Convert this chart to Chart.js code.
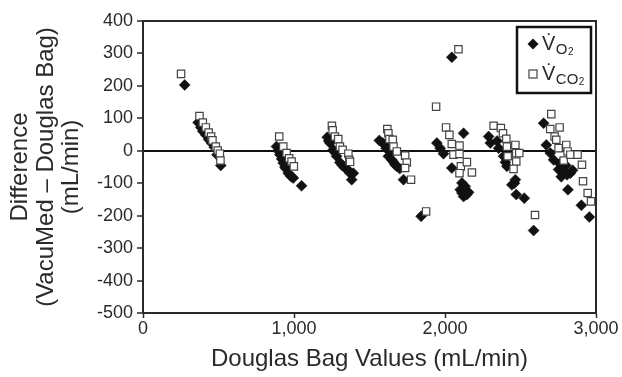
<!DOCTYPE html>
<html>
<head>
<meta charset="utf-8">
<script src="https://cdn.jsdelivr.net/npm/chart.js@4/dist/chart.umd.min.js"></script>
<style>
  html, body { margin: 0; padding: 0; background: #fff; }
  #wrap { width: 622px; height: 377px; }
</style>
</head>
<body>
<div id="wrap"><canvas id="chart"></canvas></div>
<script>
// Douglas bag reading (x) vs difference VacuMed - Douglas (y), mL/min
const o2X = [276, 365, 383, 396, 416, 435, 455, 472, 490, 515,
  884, 895, 907, 918, 929, 940, 946, 962, 978, 985, 995, 1050,
  1220, 1230, 1238, 1260, 1270, 1282, 1304, 1320, 1338, 1360, 1371, 1393, 1382,
  1565, 1587, 1600, 1610, 1625, 1640, 1647, 1660, 1669, 1681, 1700, 1725,
  1842, 1946, 1968, 1990, 2045, 2123, 2112, 2101, 2123, 2156, 2134, 2145, 2112, 2045,
  2289, 2300, 2345, 2355, 2388, 2400, 2410, 2443, 2460, 2466, 2472, 2525, 2587,
  2653, 2671, 2697, 2719, 2752, 2760, 2770, 2780, 2786, 2800, 2808, 2830, 2845, 2814, 2903, 2956];
const o2Y = [203, 87, 72, 60, 49, 35, 23, 11, -12, -45,
  13, 0, -12, -25, -38, -50, -55, -69, -78, -80, -84, -108,
  42, 30, 24, 3, -5, -17, -36, -45, -53, -60, -69, -69, -89,
  32, 24, 20, 8, -17, -5, -28, -35, -43, -48, -55, -89,
  -202, 24, 8, -9, -53, 54, -99, -120, -141, -128, -110, -135, -130, 288,
  44, 24, 30, 8, -17, -35, -48, -105, -100, -89, -135, -146, -246,
  85, 18, -7, -28, -58, -40, -80, -50, -64, -45, -74, -69, -60, -120, -168, -204];

const co2X = [252, 374, 396, 416, 435, 451, 460, 482, 495, 509, 513,
  902, 929, 951, 968, 984, 999,
  1251, 1256, 1271, 1293, 1304, 1322, 1360, 1366, 1371,
  1618, 1625, 1632, 1654, 1659, 1681, 1736, 1747, 1736, 1775,
  1875, 1941, 2089, 2007, 2029, 2045, 2096, 2056, 2096, 2105, 2145, 2178, 2096,
  2322, 2370, 2384, 2406, 2410, 2466, 2415, 2472, 2492, 2472, 2454, 2596,
  2704, 2697, 2759, 2726, 2737, 2752, 2803, 2812, 2786, 2830, 2878, 2907, 2914, 2945, 2967];
const co2Y = [237, 107, 87, 72, 56, 44, 32, 13, 1, -9, -30,
  44, 13, -7, -23, -33, -48,
  77, 63, 44, 36, 13, 3, -9, -28, -34,
  67, 54, 36, 34, 13, -2, -15, -36, -53, -89,
  -187, 136, 313, 72, 49, 21, 16, -12, -10, -48, -35, -67, -69,
  77, 70, 54, 37, 13, 18, -17, -7, -7, -33, -56, -198,
  113, 67, 72, 44, 34, 8, 18, -2, -30, -12, -12, -43, -94, -130, -156];

const yTitle = ['Difference', '(VacuMed \u2013 Douglas Bag)', '(mL/min)'];
const xTitle = 'Douglas Bag Values (mL/min)';
const legendItems = [
  { main: 'V\u0307', sub: 'O', sub2: '2', style: 'diamond' },
  { main: 'V\u0307', sub: 'CO', sub2: '2', style: 'square' },
];

const FONT = "'Liberation Sans', Arial, sans-serif";
const INK = '#2a2a2a';

const toPoints = (xs, ys) => xs.map((x, i) => ({ x, y: ys[i] }));

// frame around plot + boxed legend
const framePlugin = {
  id: 'frame',
  afterDatasetsDraw(chart) {
    const { ctx, chartArea: a } = chart;
    ctx.save();
    ctx.strokeStyle = INK;
    ctx.lineWidth = 2;
    ctx.strokeRect(a.left, a.top, a.right - a.left, a.bottom - a.top);
    ctx.restore();
  },
  afterDraw(chart) {
    const { ctx, chartArea: a } = chart;
    const bx = a.right - 79, by = a.top + 6, bw = 74, bh = 66;
    ctx.save();
    ctx.fillStyle = '#fff';
    ctx.fillRect(bx, by, bw, bh);
    ctx.strokeStyle = '#111';
    ctx.lineWidth = 2.5;
    ctx.strokeRect(bx, by, bw, bh);
    legendItems.forEach((it, i) => {
      const cy = by + 17 + i * 30;
      const mx = bx + 16;
      if (it.style === 'diamond') {
        ctx.fillStyle = '#111';
        ctx.beginPath();
        ctx.moveTo(mx - 5.5, cy); ctx.lineTo(mx, cy - 5.5);
        ctx.lineTo(mx + 5.5, cy); ctx.lineTo(mx, cy + 5.5);
        ctx.closePath(); ctx.fill();
      } else {
        ctx.fillStyle = '#fff';
        ctx.strokeStyle = '#444';
        ctx.lineWidth = 1.2;
        ctx.fillRect(mx - 4, cy - 4, 8, 8);
        ctx.strokeRect(mx - 4, cy - 4, 8, 8);
      }
      ctx.fillStyle = INK;
      ctx.textBaseline = 'alphabetic';
      let tx = bx + 25;
      ctx.font = '20px ' + FONT;
      ctx.fillText(it.main, tx, cy + 6);
      tx += ctx.measureText('V').width + 0.5;
      ctx.font = '15px ' + FONT;
      ctx.fillText(it.sub, tx, cy + 10);
      tx += ctx.measureText(it.sub).width + 0.5;
      ctx.font = '10px ' + FONT;
      ctx.fillText(it.sub2, tx, cy + 11);
    });
    ctx.restore();
  },
};

new Chart(document.getElementById('chart'), {
  type: 'scatter',
  data: {
    datasets: [
      {
        label: 'VCO2',
        data: toPoints(co2X, co2Y),
        pointStyle: 'rect',
        pointRadius: 5.2,
        pointHoverRadius: 5.2,
        backgroundColor: '#fff',
        borderColor: '#444',
        borderWidth: 1.2,
        order: 1,
      },
      {
        label: 'VO2',
        data: toPoints(o2X, o2Y),
        pointStyle: 'rectRot',
        pointRadius: 5.5,
        pointHoverRadius: 5.5,
        backgroundColor: '#111',
        borderColor: '#111',
        borderWidth: 0.5,
        order: 2,
      },
    ],
  },
  options: {
    responsive: true,
    maintainAspectRatio: false,
    animation: false,
    layout: { padding: { left: 0, right: 26, top: 21, bottom: 0 } },
    plugins: { legend: { display: false }, tooltip: { enabled: false } },
    scales: {
      x: {
        type: 'linear',
        min: 0,
        max: 3000,
        afterFit: (s) => { s.height = 64; },
        border: { display: true, color: INK, width: 2 },
        grid: { drawOnChartArea: false, tickLength: 5, tickColor: INK, tickWidth: 1.5 },
        ticks: {
          stepSize: 1000,
          padding: 0,
          maxRotation: 0,
          color: INK,
          font: { family: FONT, size: 18 },
          callback: (v) => Number(v).toLocaleString('en-US'),
        },
        title: {
          display: true,
          text: xTitle,
          color: INK,
          font: { family: FONT, size: 24 },
          padding: { top: 0, bottom: 3 },
        },
      },
      y: {
        type: 'linear',
        min: -500,
        max: 400,
        afterFit: (s) => { s.width = 143; },
        border: { display: true, color: INK, width: 2 },
        grid: {
          drawOnChartArea: true,
          color: (c) => (c.tick && c.tick.value === 0 ? '#111' : 'rgba(0,0,0,0)'),
          lineWidth: (c) => (c.tick && c.tick.value === 0 ? 2 : 0),
          tickLength: 6,
          tickColor: INK,
          tickWidth: 1.5,
        },
        ticks: {
          stepSize: 100,
          padding: 4,
          color: INK,
          font: { family: FONT, size: 18 },
        },
        title: {
          display: true,
          text: yTitle,
          color: INK,
          font: { family: FONT, size: 24, lineHeight: 1.08 },
          padding: { top: 7, bottom: 0 },
        },
      },
    },
  },
  plugins: [framePlugin],
});
</script>
</body>
</html>
